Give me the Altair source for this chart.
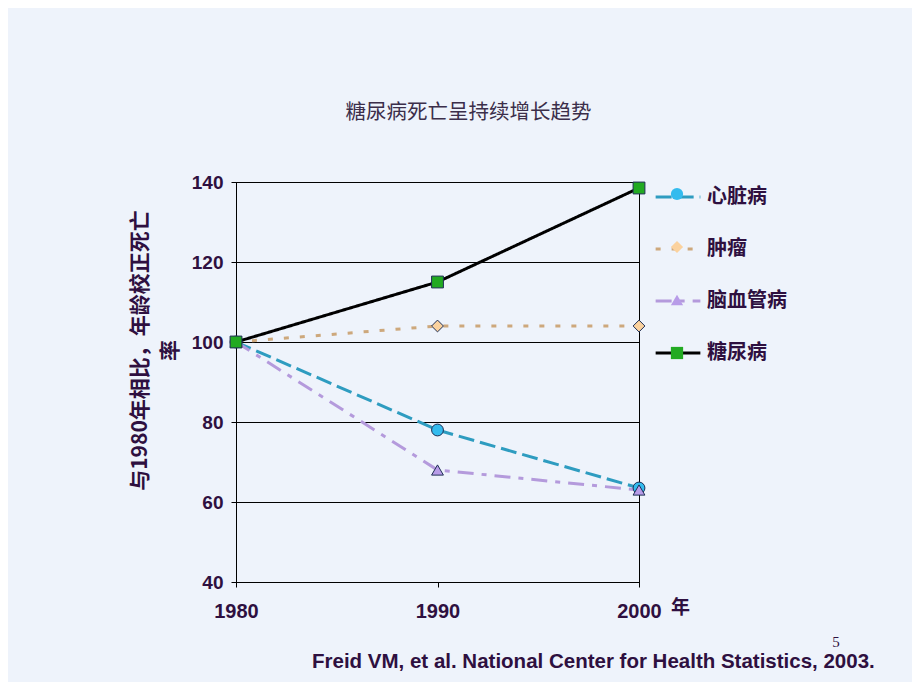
import altair as alt
import pandas as pd

# ---- data ----
years = [1980, 1990, 2000]
series_names = ["心脏病", "肿瘤", "脑血管病", "糖尿病"]
marker_keys = ["心脏病 ", "肿瘤 ", "脑血管病 ", "糖尿病 "]
heart = [100, 78, 63.5]
cancer = [100, 104, 104]
cerebro = [100, 68, 63]
diabetes = [100, 115, 138.5]
y_ticks = [40, 60, 80, 100, 120, 140]

title_text = "糖尿病死亡呈持续增长趋势"
y_title = ["与1980年相比，年龄校正死亡", "率"]
x_title = "年"
footer_text = "Freid VM, et al. National Center for Health Statistics, 2003."
page_num = "5"

# ---- styles ----
line_colors = ["#2E9CC0", "#CDA87C", "#B49ADC", "#000000"]
fill_colors = ["#33BBEE", "#FBD29E", "#B89CE8", "#22AA22"]
dashes = [[16, 6], [5, 11], [16, 8, 5, 8], [1, 0]]
shapes = ["circle", "diamond", "triangle-up", "square"]
text_color = "#2E1040"
bg = "#EEF3FB"

rows = []
for name, key, vals in zip(series_names, marker_keys, [heart, cancer, cerebro, diabetes]):
    for yr, v in zip(years, vals):
        rows.append({"year": yr, "value": v, "series": name, "series_m": key})
df = pd.DataFrame(rows)

x_enc = alt.X(
    "year:Q",
    scale=alt.Scale(domain=[1980, 2000], nice=False, zero=False),
    axis=alt.Axis(
        values=years, format="d", grid=False, title=x_title,
        titleX=444, titleY=25, titleAlign="center", titleBaseline="middle",
        titleFont="Noto Sans CJK SC", titleFontSize=19, titleFontWeight="bold",
        titleColor=text_color, labelFlush=False,
        labelFont="Liberation Sans", labelFontSize=20, labelFontWeight="bold",
        labelColor=text_color, labelPadding=14, tickSize=5, tickColor="black",
        domainColor="black", labelBaseline="top",
    ),
)
y_enc = alt.Y(
    "value:Q",
    scale=alt.Scale(domain=[40, 140], nice=False, zero=False),
    axis=alt.Axis(
        values=y_ticks, grid=True, gridColor="black", gridWidth=1, gridOpacity=1,
        title=y_title, titleAngle=270, titleX=-96, titleY=168,
        titleAlign="center", titleBaseline="middle", titleLineHeight=30,
        titleFont="Noto Sans CJK SC", titleFontSize=21, titleFontWeight="bold",
        titleColor=text_color,
        labelFont="Liberation Sans", labelFontSize=19, labelFontWeight="bold",
        labelColor=text_color, labelPadding=8, tickSize=5, tickColor="black",
        domainColor="black",
    ),
)

line_legend = alt.Legend(
    orient="none", legendX=418, legendY=-9, title=None,
    symbolType="stroke", symbolSize=2000, symbolStrokeWidth=3,
    labelFont="Noto Sans CJK SC", labelFontSize=20, labelFontWeight="bold",
    labelColor=text_color, labelOffset=5, rowPadding=18, padding=0,
    direction="vertical",
)

lines = alt.Chart(df).mark_line(strokeWidth=3).encode(
    x=x_enc,
    y=y_enc,
    stroke=alt.Stroke(
        "series:N", sort=series_names,
        scale=alt.Scale(domain=series_names, range=line_colors),
        legend=line_legend,
    ),
    strokeDash=alt.StrokeDash(
        "series:N", sort=series_names,
        scale=alt.Scale(domain=series_names, range=dashes),
        legend=line_legend,
    ),
    order=alt.Order("year:Q"),
)

marker_legend = alt.Legend(
    orient="none", legendX=431, legendY=2, title=None,
    symbolSize=150, symbolStrokeColor="#1F2F55", symbolStrokeWidth=1,
    symbolOpacity=1, labelExpr="''", labelFontSize=20, rowPadding=33, padding=0,
    direction="vertical",
)

points = alt.Chart(df).mark_point(
    filled=True, size=140, stroke="#1F2F55", strokeWidth=1, opacity=1
).encode(
    x="year:Q",
    y="value:Q",
    fill=alt.Fill(
        "series_m:N", sort=marker_keys,
        scale=alt.Scale(domain=marker_keys, range=fill_colors),
        legend=marker_legend,
    ),
    shape=alt.Shape(
        "series_m:N", sort=marker_keys,
        scale=alt.Scale(domain=marker_keys, range=shapes),
        legend=marker_legend,
    ),
)

footer = alt.Chart(pd.DataFrame({"t": [footer_text]})).mark_text(
    align="left", baseline="alphabetic", font="Liberation Sans",
    fontSize=20.5, fontWeight="bold", color=text_color,
).encode(x=alt.value(76), y=alt.value(486), text="t:N")

pnum = alt.Chart(pd.DataFrame({"t": [page_num]})).mark_text(
    align="center", baseline="alphabetic", font="Liberation Serif",
    fontSize=15, color=text_color,
).encode(x=alt.value(600), y=alt.value(465), text="t:N")

chart = alt.layer(lines, points, footer, pnum).properties(
    width=403, height=400,
    autosize="none",
    padding={"left": 228, "top": 174, "right": 273, "bottom": 100},
    title=alt.TitleParams(
        text=title_text, font="Noto Sans CJK SC", fontSize=20.5, fontWeight="normal",
        color="#3B2E4A", anchor="middle", frame="group", dx=31, offset=34,
        baseline="alphabetic",
    ),
).configure(background=bg).configure_view(stroke="black", strokeWidth=1)

chart.save("out.html", embed_options={"renderer": "svg", "actions": False})
